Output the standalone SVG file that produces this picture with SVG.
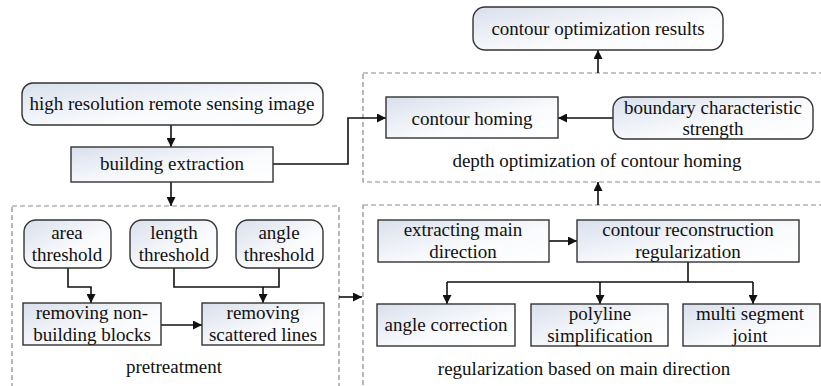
<svg xmlns="http://www.w3.org/2000/svg" width="821" height="386" viewBox="0 0 821 386">
<defs>
<linearGradient id="g" x1="0" y1="0" x2="1" y2="1">
<stop offset="0" stop-color="#d9e0ec"/>
<stop offset="0.6" stop-color="#fafbfd"/>
<stop offset="1" stop-color="#ffffff"/>
</linearGradient>
<marker id="a" viewBox="0 0 10 10" refX="10" refY="5" markerWidth="9" markerHeight="9" markerUnits="userSpaceOnUse" orient="auto">
<path d="M0,0 L10,5 L0,10 z" fill="#111"/>
</marker>
<style>
.n{fill:url(#g);stroke:#333;stroke-width:1.4}
.d{fill:none;stroke:#8a8a8a;stroke-width:1.2;stroke-dasharray:5,3}
.c{fill:none;stroke:#111;stroke-width:1.6;marker-end:url(#a)}
.l{fill:none;stroke:#111;stroke-width:1.6}
text{font-size:19px;fill:#111;text-anchor:middle}
</style>
</defs>
<rect width="821" height="386" fill="#fff"/>
<g font-family="'Liberation Serif', 'DejaVu Serif', serif">
<g id="groups">
<rect class="d" x="363" y="73" width="470" height="109"/>
<rect class="d" x="12" y="206" width="327" height="200"/>
<rect class="d" x="363" y="205" width="470" height="200"/>
<text x="597" y="167">depth optimization of contour homing</text>
<text x="174" y="373">pretreatment</text>
<text x="584" y="375">regularization based on main direction</text>
</g>
<g id="connectors">
<path class="c" d="M171,125 V147"/>
<path class="c" d="M273,164 H348 V118 H386"/>
<path class="c" d="M171,182 V206"/>
<path class="c" d="M613,118 H558"/>
<path class="c" d="M598,73 V50"/>
<path class="c" d="M598,205 V182"/>
<path class="c" d="M68,268 V287 H91 V303"/>
<path class="l" d="M174,268 V287 H279 V268"/>
<path class="c" d="M263,287 V303"/>
<path class="c" d="M161,325 H202"/>
<path class="c" d="M339,297 H362"/>
<path class="c" d="M549,241 H577"/>
<path class="l" d="M688,262 V282 M447,282 H753"/>
<path class="c" d="M447,282 V304"/>
<path class="c" d="M600,282 V304"/>
<path class="c" d="M753,282 V304"/>
</g>
<g id="n-image"><rect class="n" x="22" y="83" width="301" height="42" rx="11"/><text x="172" y="110">high resolution remote sensing image</text></g>
<g id="n-extraction"><rect class="n" x="71" y="147" width="202" height="35"/><text x="172" y="170">building extraction</text></g>
<g id="n-results"><rect class="n" x="473" y="7" width="250" height="43" rx="12"/><text x="598" y="35">contour optimization results</text></g>
<g id="n-homing"><rect class="n" x="386" y="97" width="172" height="41"/><text x="472" y="125">contour homing</text></g>
<g id="n-boundary"><rect class="n" x="613" y="97" width="200" height="42" rx="12"/><text x="713" y="114">boundary characteristic</text><text x="713" y="135">strength</text></g>
<g id="n-area"><rect class="n" x="24" y="220" width="87" height="48" rx="12"/><text x="67" y="239">area</text><text x="67" y="261">threshold</text></g>
<g id="n-length"><rect class="n" x="130" y="220" width="87" height="48" rx="12"/><text x="174" y="239">length</text><text x="174" y="261">threshold</text></g>
<g id="n-angle"><rect class="n" x="236" y="220" width="87" height="48" rx="12"/><text x="279" y="239">angle</text><text x="279" y="261">threshold</text></g>
<g id="n-nonbuilding"><rect class="n" x="23" y="303" width="138" height="42"/><text x="92" y="319">removing non-</text><text x="92" y="341">building blocks</text></g>
<g id="n-scattered"><rect class="n" x="202" y="303" width="122" height="42"/><text x="263" y="319">removing</text><text x="263" y="341">scattered lines</text></g>
<g id="n-direction"><rect class="n" x="378" y="220" width="171" height="42"/><text x="463" y="236">extracting main</text><text x="463" y="258">direction</text></g>
<g id="n-reconstruction"><rect class="n" x="577" y="220" width="222" height="42"/><text x="688" y="236">contour reconstruction</text><text x="688" y="258">regularization</text></g>
<g id="n-anglecorr"><rect class="n" x="377" y="304" width="138" height="42"/><text x="446" y="331">angle correction</text></g>
<g id="n-polyline"><rect class="n" x="531" y="304" width="137" height="42"/><text x="600" y="320">polyline</text><text x="600" y="342">simplification</text></g>
<g id="n-multi"><rect class="n" x="683" y="304" width="137" height="42"/><text x="750" y="320">multi segment</text><text x="750" y="342">joint</text></g>
</g>
</svg>
